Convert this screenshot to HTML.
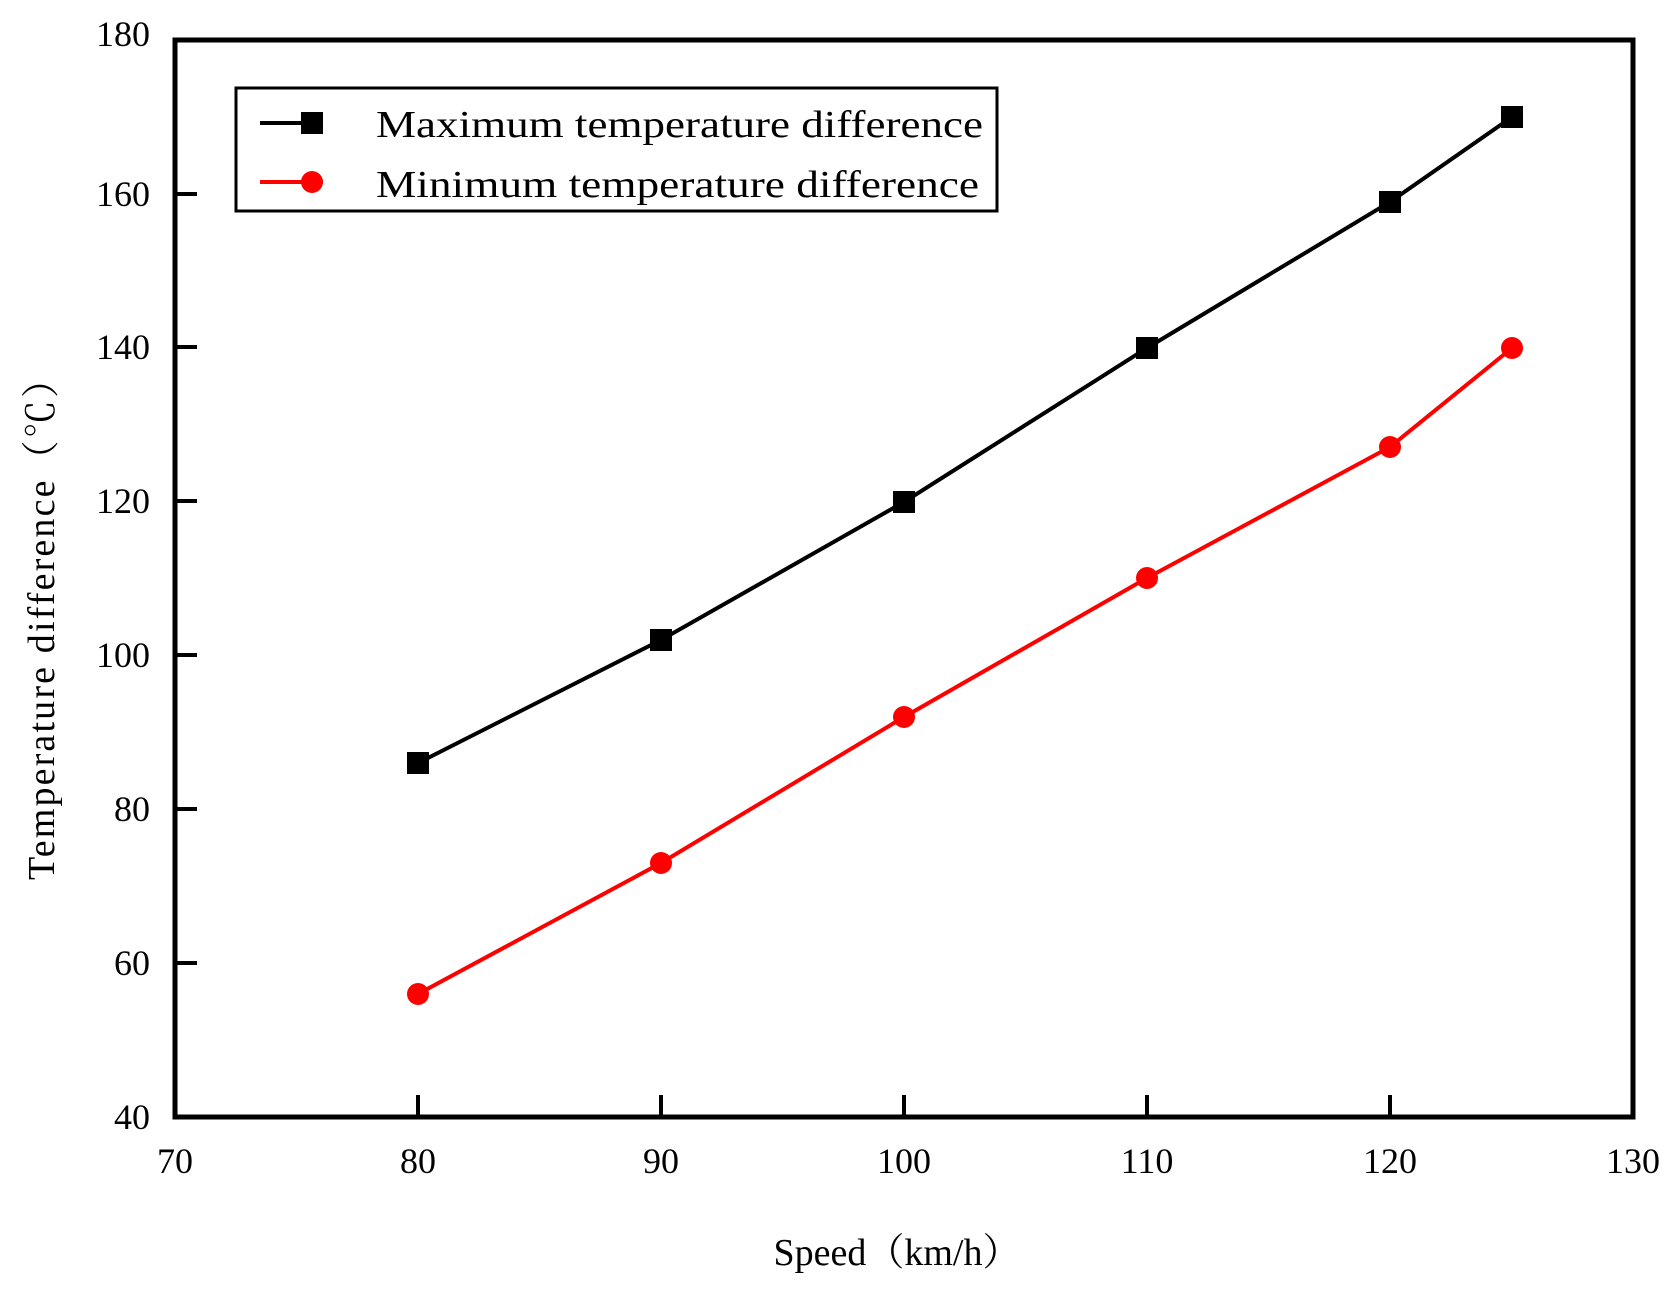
<!DOCTYPE html>
<html><head><style>body{margin:0;background:#fff}</style></head><body>
<svg width="1677" height="1284" viewBox="0 0 1677 1284" xmlns="http://www.w3.org/2000/svg" font-family="Liberation Serif, serif">
<rect width="1677" height="1284" fill="#fff"/>
<g stroke="#000" stroke-width="5">
<rect x="175" y="40" width="1458" height="1077" fill="none"/>
</g>
<g stroke="#000" stroke-width="4">
<line x1="175" y1="194" x2="197" y2="194"/>
<line x1="175" y1="347" x2="197" y2="347"/>
<line x1="175" y1="501" x2="197" y2="501"/>
<line x1="175" y1="655" x2="197" y2="655"/>
<line x1="175" y1="809" x2="197" y2="809"/>
<line x1="175" y1="963" x2="197" y2="963"/>
<line x1="418" y1="1117" x2="418" y2="1095"/>
<line x1="661" y1="1117" x2="661" y2="1095"/>
<line x1="904" y1="1117" x2="904" y2="1095"/>
<line x1="1147" y1="1117" x2="1147" y2="1095"/>
<line x1="1390" y1="1117" x2="1390" y2="1095"/>
</g>
<g font-size="36" text-anchor="end" fill="#000">
<text x="150" y="46">180</text>
<text x="150" y="206">160</text>
<text x="150" y="359">140</text>
<text x="150" y="513">120</text>
<text x="150" y="667">100</text>
<text x="150" y="821">80</text>
<text x="150" y="975">60</text>
<text x="150" y="1129">40</text>
</g>
<g font-size="36" text-anchor="middle" fill="#000">
<text x="175" y="1173">70</text>
<text x="418" y="1173">80</text>
<text x="661" y="1173">90</text>
<text x="904" y="1173">100</text>
<text x="1147" y="1173">110</text>
<text x="1390" y="1173">120</text>
<text x="1633" y="1173">130</text>
</g>
<text x="897" y="1265" font-size="38" text-anchor="middle" font-family="Liberation Serif, Noto Serif CJK SC, serif">Speed（km/h）</text>
<text transform="translate(54,620) rotate(-90)" font-size="38" text-anchor="middle" textLength="520" font-family="Liberation Serif, Noto Serif CJK SC, serif">Temperature difference（℃）</text>
<polyline fill="none" stroke="#000" stroke-width="4" points="418,763 661,640 904,502 1147,348 1390,202 1512,117"/>
<g fill="#000">
<rect x="407" y="752" width="22" height="22"/><rect x="650" y="629" width="22" height="22"/><rect x="893" y="491" width="22" height="22"/><rect x="1136" y="337" width="22" height="22"/><rect x="1379" y="191" width="22" height="22"/><rect x="1501" y="106" width="22" height="22"/>
</g>
<polyline fill="none" stroke="#f00" stroke-width="4" points="418,994 661,863 904,717 1147,578 1390,447 1512,348"/>
<g fill="#f00">
<circle cx="418" cy="994" r="11"/><circle cx="661" cy="863" r="11"/><circle cx="904" cy="717" r="11"/><circle cx="1147" cy="578" r="11"/><circle cx="1390" cy="447" r="11"/><circle cx="1512" cy="348" r="11"/>
</g>
<rect x="236" y="88" width="761" height="123" fill="#fff" stroke="#000" stroke-width="3"/>
<line x1="260" y1="123" x2="323" y2="123" stroke="#000" stroke-width="4"/>
<rect x="301" y="112" width="22" height="22" fill="#000"/>
<line x1="260" y1="182" x2="323" y2="182" stroke="#f00" stroke-width="4"/>
<circle cx="312" cy="182" r="11" fill="#f00"/>
<text x="376" y="137" font-size="38" textLength="607" lengthAdjust="spacingAndGlyphs">Maximum temperature difference</text>
<text x="376" y="197" font-size="38" textLength="603" lengthAdjust="spacingAndGlyphs">Minimum temperature difference</text>
</svg>
</body></html>
